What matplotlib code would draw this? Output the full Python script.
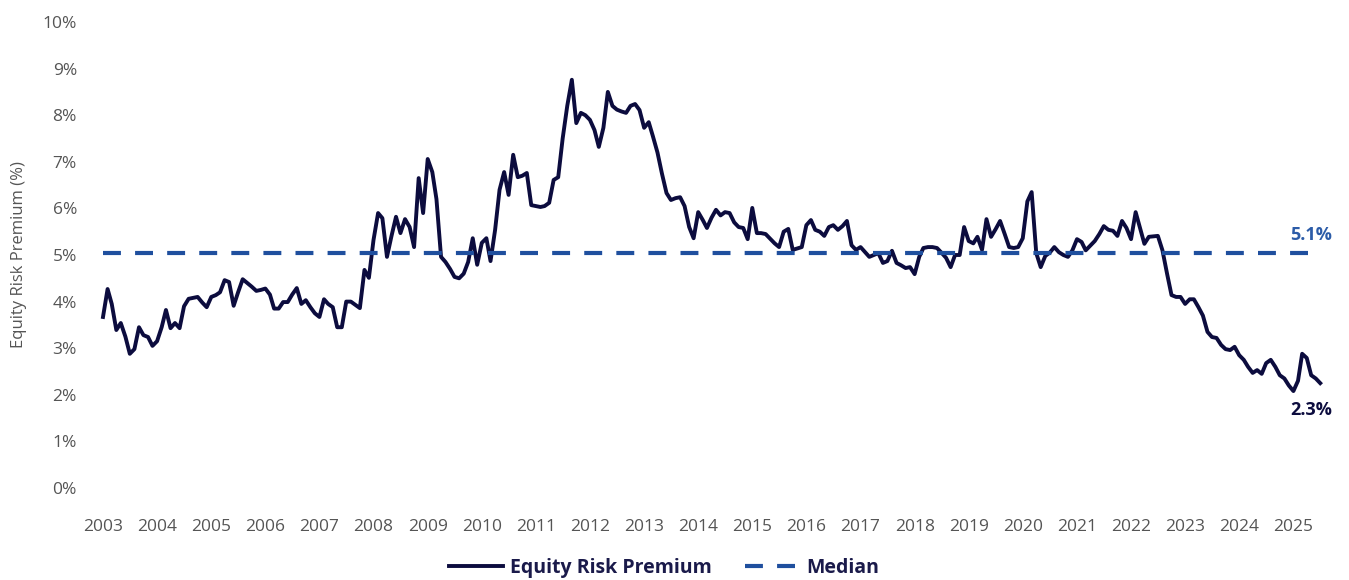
import matplotlib.pyplot as plt
import pandas as pd

# monthly equity risk premium (%)
erp_2003 = [3.67, 4.27, 3.95, 3.39, 3.54, 3.25, 2.88, 2.98, 3.45, 3.28, 3.24, 3.05]
erp_2004 = [3.15, 3.45, 3.82, 3.43, 3.54, 3.43, 3.90, 4.06, 4.08, 4.10, 3.98, 3.88]
erp_2005 = [4.10, 4.14, 4.20, 4.46, 4.42, 3.91, 4.20, 4.48, 4.40, 4.32, 4.23, 4.25]
erp_2006 = [4.28, 4.15, 3.85, 3.85, 3.99, 3.99, 4.15, 4.29, 3.95, 4.03, 3.88, 3.75]
erp_2007 = [3.67, 4.05, 3.95, 3.88, 3.45, 3.45, 4.00, 4.00, 3.93, 3.86, 4.68, 4.51]
erp_2008 = [5.32, 5.90, 5.79, 4.96, 5.40, 5.82, 5.47, 5.77, 5.60, 5.17, 6.65, 5.90]
erp_2009 = [7.06, 6.78, 6.20, 4.96, 4.85, 4.70, 4.53, 4.50, 4.60, 4.85, 5.36, 4.79]
erp_2010 = [5.26, 5.36, 4.87, 5.54, 6.40, 6.78, 6.29, 7.15, 6.67, 6.70, 6.76, 6.07]
erp_2011 = [6.05, 6.03, 6.05, 6.12, 6.61, 6.67, 7.50, 8.20, 8.76, 7.83, 8.05, 8.00]
erp_2012 = [7.90, 7.68, 7.32, 7.73, 8.50, 8.20, 8.12, 8.08, 8.05, 8.20, 8.24, 8.11]
erp_2013 = [7.73, 7.85, 7.55, 7.20, 6.75, 6.33, 6.18, 6.22, 6.24, 6.05, 5.60, 5.36]
erp_2014 = [5.92, 5.75, 5.58, 5.80, 5.97, 5.85, 5.92, 5.90, 5.70, 5.60, 5.58, 5.34]
erp_2015 = [6.01, 5.47, 5.47, 5.45, 5.35, 5.25, 5.17, 5.50, 5.56, 5.11, 5.14, 5.17]
erp_2016 = [5.64, 5.75, 5.54, 5.50, 5.41, 5.60, 5.64, 5.54, 5.62, 5.73, 5.21, 5.11]
erp_2017 = [5.17, 5.06, 4.96, 5.00, 5.04, 4.83, 4.87, 5.09, 4.83, 4.78, 4.72, 4.74]
erp_2018 = [4.59, 4.96, 5.15, 5.17, 5.17, 5.15, 5.05, 4.94, 4.74, 5.00, 5.00, 5.60]
erp_2019 = [5.30, 5.25, 5.39, 5.11, 5.77, 5.39, 5.55, 5.73, 5.45, 5.17, 5.15, 5.17]
erp_2020 = [5.36, 6.15, 6.35, 5.04, 4.74, 4.98, 5.05, 5.17, 5.06, 5.00, 4.96, 5.10]
erp_2021 = [5.34, 5.28, 5.10, 5.20, 5.30, 5.45, 5.62, 5.54, 5.52, 5.41, 5.73, 5.58]
erp_2022 = [5.34, 5.92, 5.60, 5.24, 5.39, 5.40, 5.41, 5.10, 4.60, 4.14, 4.10, 4.10]
erp_2023 = [3.95, 4.05, 4.05, 3.88, 3.70, 3.35, 3.24, 3.22, 3.07, 2.98, 2.96, 3.03]
erp_2024 = [2.85, 2.75, 2.60, 2.47, 2.53, 2.45, 2.68, 2.75, 2.60, 2.42, 2.35, 2.20]
erp_2025 = [2.08, 2.30, 2.88, 2.79, 2.42, 2.35, 2.25]

erp = (erp_2003 + erp_2004 + erp_2005 + erp_2006 + erp_2007 + erp_2008
       + erp_2009 + erp_2010 + erp_2011 + erp_2012 + erp_2013 + erp_2014
       + erp_2015 + erp_2016 + erp_2017 + erp_2018 + erp_2019 + erp_2020
       + erp_2021 + erp_2022 + erp_2023 + erp_2024 + erp_2025)
dates = pd.date_range('2003-01-01', periods=len(erp), freq='MS')

median_value = 5.05
median_label = '5.1%'
last_label = '2.3%'
years = list(range(2003, 2026))
y_ticks = list(range(0, 11))

navy = '#0c0c3e'
blue = '#1f4f9e'
grey = '#555555'

plt.rcParams['font.family'] = ['Open Sans', 'DejaVu Sans']

fig = plt.figure(figsize=(13.49, 5.8), dpi=100)
ax = fig.add_axes([95 / 1349, 1 - 488 / 580, 1240 / 1349, 466 / 580])

start = pd.Timestamp('2003-01-01')
ax.set_xlim(start - pd.Timedelta(days=54), start + pd.Timedelta(days=22.77 * 365.25))
ax.set_ylim(0, 10)

ax.plot(dates, erp, color=navy, lw=2.8, solid_joinstyle='round',
        label='Equity Risk Premium')
ax.plot([dates[0], dates[-1] - pd.Timedelta(days=25)], [median_value, median_value],
        color=blue, lw=3, dashes=(4.3, 3.4), label='Median')

ax.text(pd.Timestamp('2025-05-01'), 5.42, median_label, color='#2c5ca8',
        fontsize=13, fontweight='bold', ha='center', va='center')
ax.text(pd.Timestamp('2025-05-01'), 1.67, last_label, color=navy,
        fontsize=13, fontweight='bold', ha='center', va='center')

ax.set_xticks(pd.to_datetime([f'{y}-01-01' for y in years]))
ax.set_xticklabels([str(y) for y in years])
ax.set_yticks(y_ticks)
ax.set_yticklabels([f'{v}%' for v in y_ticks])
ax.tick_params(axis='both', length=0, labelsize=12.5, colors=grey)
ax.tick_params(axis='x', pad=22)
ax.tick_params(axis='y', pad=13)

ax.set_ylabel('Equity Risk Premium (%)', fontsize=12, color=grey)
ax.yaxis.set_label_coords(-0.055, 0.5)

for s in ax.spines.values():
    s.set_visible(False)

leg = fig.legend(loc='center', bbox_to_anchor=(664 / 1349, 1 - 568 / 580), ncol=2,
                 frameon=False, handlelength=2.8, handletextpad=0.35,
                 columnspacing=1.7, prop={'weight': 'bold', 'size': 14})
for t in leg.get_texts():
    t.set_color('#1a1a4a')

fig.savefig('out.png', dpi=100)
